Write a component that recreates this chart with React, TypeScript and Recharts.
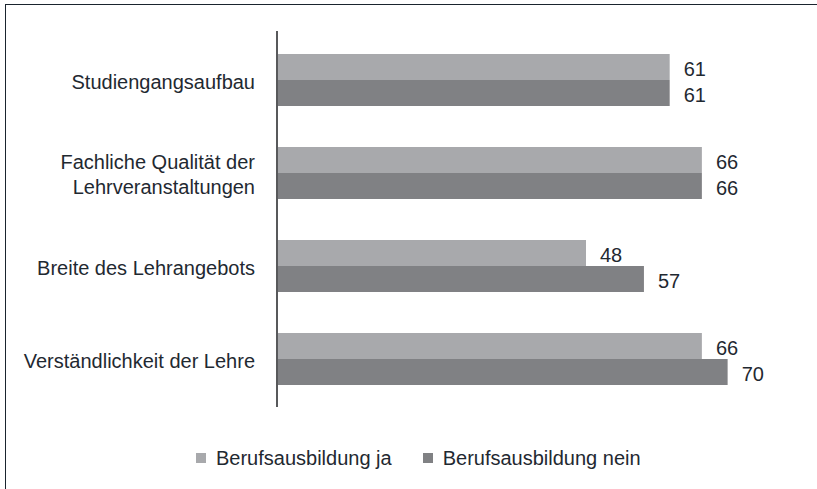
import { Bar, BarChart, LabelList, XAxis, YAxis } from "recharts";

const categories = [
  "Studiengangsaufbau",
  "Fachliche Qualität der\nLehrveranstaltungen",
  "Breite des Lehrangebots",
  "Verständlichkeit der Lehre",
];
const withTraining = [61, 66, 48, 66];
const withoutTraining = [61, 66, 57, 70];
const seriesNames = ["Berufsausbildung ja", "Berufsausbildung nein"];
const seriesColors = ["#a8a9ac", "#808184"];

const data = categories.map((name, i) => ({
  name,
  ja: withTraining[i],
  nein: withoutTraining[i],
}));

const FONT = '"Liberation Sans", Arial, sans-serif';
const TEXT = "#1f2931";

const CategoryTick = ({ x, y, payload }: any) => {
  const lines = String(payload.value).split("\n");
  const lineH = 24.5;
  const start = -((lines.length - 1) * lineH) / 2 + 2;
  return (
    <text x={x} y={y} textAnchor="end" fill={TEXT} fontSize={20} fontFamily={FONT}>
      {lines.map((line, i) => (
        <tspan key={i} x={x} y={y + start + i * lineH} dy="0.355em">
          {line}
        </tspan>
      ))}
    </text>
  );
};

export default function App() {
  return (
    <div
      style={{
        position: "absolute",
        left: 0,
        top: 0,
        width: 817,
        height: 489,
        overflow: "hidden",
        background: "#fff",
        fontFamily: FONT,
      }}
    >
      <div
        style={{
          position: "absolute",
          left: 5,
          top: 4,
          width: 900,
          height: 600,
          borderTop: "1px solid #1a242e",
          borderLeft: "1px solid #1a242e",
        }}
      />
      <div style={{ position: "absolute", left: 0, top: 0 }}>
        <BarChart
          width={817}
          height={489}
          data={data}
          layout="vertical"
          margin={{ top: 31, right: 25, bottom: 82, left: 0 }}
          barCategoryGap="22.5%"
          barGap={0}
        >
          <XAxis type="number" domain={[0, 80]} hide />
          <YAxis
            type="category"
            dataKey="name"
            width={277}
            padding={{ top: 2, bottom: 2 }}
            axisLine={{ stroke: "#58595b", strokeWidth: 2 }}
            tickLine={false}
            tickMargin={16}
            interval={0}
            tick={<CategoryTick />}
          />
          <Bar dataKey="ja" fill={seriesColors[0]} isAnimationActive={false}>
            <LabelList
              dataKey="ja"
              position="right"
              offset={14}
              dy={2}
              fill={TEXT}
              fontSize={20}
              fontFamily={FONT}
            />
          </Bar>
          <Bar dataKey="nein" fill={seriesColors[1]} isAnimationActive={false}>
            <LabelList
              dataKey="nein"
              position="right"
              offset={14}
              dy={2}
              fill={TEXT}
              fontSize={20}
              fontFamily={FONT}
            />
          </Bar>
        </BarChart>
      </div>
      <div
        style={{
          position: "absolute",
          left: 196,
          top: 448,
          display: "flex",
          alignItems: "center",
          gap: 31,
          fontSize: 20,
          lineHeight: "20px",
          color: TEXT,
          whiteSpace: "nowrap",
        }}
      >
        {seriesNames.map((name, i) => (
          <div key={name} style={{ display: "flex", alignItems: "center" }}>
            <span
              style={{
                display: "inline-block",
                width: 10,
                height: 10,
                background: seriesColors[i],
                marginRight: 10,
              }}
            />
            {name}
          </div>
        ))}
      </div>
    </div>
  );
}
